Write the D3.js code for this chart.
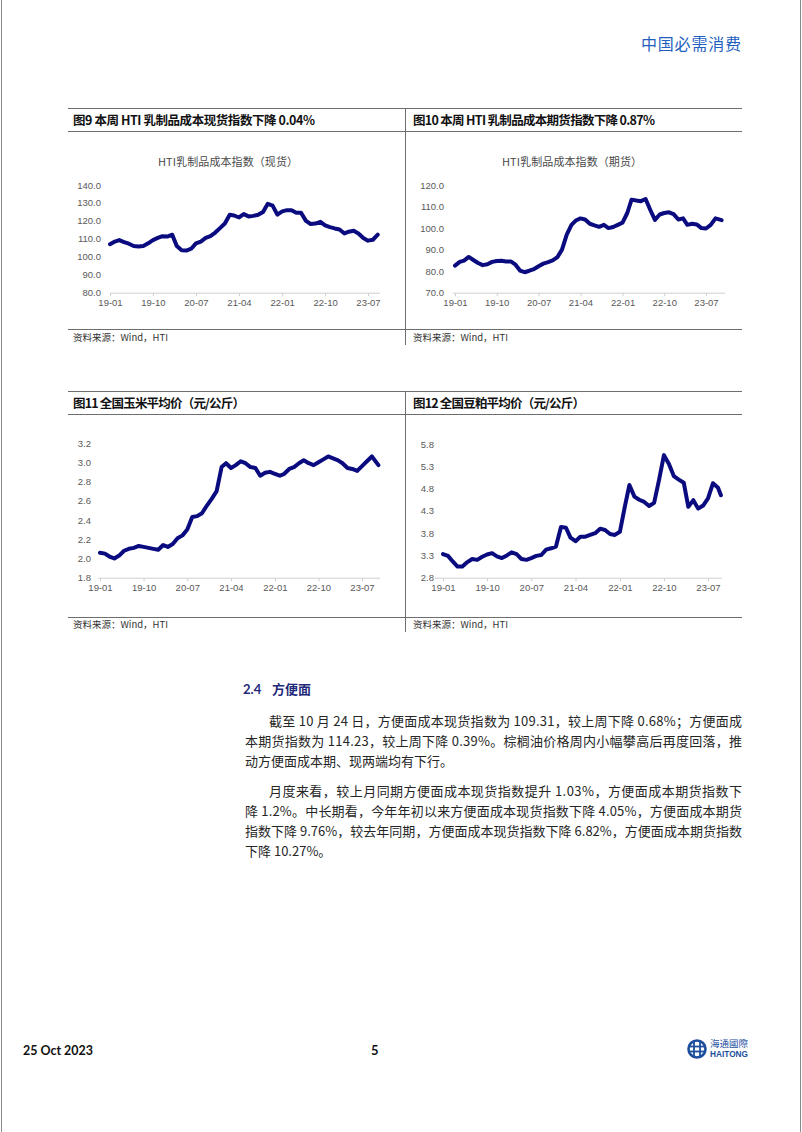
<!DOCTYPE html>
<html><head><meta charset="utf-8">
<script src="https://cdn.jsdelivr.net/npm/d3@7"></script>
<style>html,body{margin:0;padding:0;background:#fff;} svg{display:block;}</style>
</head><body>
<svg id="page" width="802" height="1132"></svg>
<script>
// ---------------- DATA ----------------
const monthStart = "2019-01", monthEnd = "2023-10"; // monthly observations Jan-2019 .. Sep-2023
const xTickLabels = ["19-01","19-10","20-07","21-04","22-01","22-10","23-07"];

// Fig 9: HTI dairy cost index (spot)
const spotValues = [107,108.5,109.3,108.2,107.3,106,105.7,106,107.5,109.3,110.5,111.5,
  111.3,112.3,106,103.6,103.5,104.5,107.5,108.5,110.5,111.5,113.5,116,
  118.5,123.4,123,121.9,123.8,122.5,122.8,123.4,125,129.5,128.5,123.5,
  125.3,126,126,124.5,124.5,120,118.3,118.5,119.5,117.5,116.5,115.8,
  115.2,113,114,114.5,113,110.5,109,109.5,112.3];
const spotEnd = null;
const spotTicks = [80,90,100,110,120,130,140];

// Fig 10: HTI dairy cost index (futures)
const futValues = [82.6,84.3,84.9,86.6,85.2,83.8,82.8,83.2,84.3,84.7,84.8,84.5,
  84.5,83,80.3,79.5,80.2,81,82.3,83.5,84.2,85,86.5,90,
  97,101.5,103.5,104.5,104,102,101.3,100.6,101.5,100,100.5,101.5,
  102.5,107,113.2,112.8,112.5,113.5,108.5,103.8,106.3,107,107.3,106.5,
  104,104.5,101.5,102,101.7,100,99.8,101.5,104.5];
const futEnd = ["2023-10-11", 103.7];
const futTicks = [70,80,90,100,110,120];

// Fig 11: national average corn price (yuan/kg)
const cornValues = [2.06,2.05,2.02,2.00,2.03,2.08,2.10,2.11,2.13,2.12,2.11,2.10,
  2.09,2.14,2.12,2.15,2.21,2.24,2.30,2.43,2.44,2.47,2.55,2.62,
  2.70,2.95,2.99,2.94,2.97,3.01,2.99,2.95,2.94,2.86,2.89,2.90,
  2.88,2.86,2.88,2.93,2.95,2.99,3.02,2.99,2.97,3.00,3.03,3.06,
  3.04,3.02,2.99,2.94,2.93,2.91,2.96,3.01,3.06];
const cornEnd = ["2023-10-12", 2.97];
const cornTicks = [1.8,2.0,2.2,2.4,2.6,2.8,3.0,3.2];

// Fig 12: national average soybean meal price (yuan/kg)
const soyValues = [3.33,3.29,3.17,3.05,3.05,3.15,3.22,3.20,3.27,3.32,3.35,3.28,
  3.24,3.30,3.37,3.33,3.22,3.20,3.24,3.29,3.31,3.43,3.46,3.50,
  3.94,3.92,3.70,3.62,3.72,3.72,3.76,3.80,3.90,3.87,3.78,3.76,
  3.83,4.40,4.88,4.62,4.55,4.50,4.41,4.48,5.00,5.55,5.35,5.08,
  5.00,4.93,4.39,4.54,4.35,4.42,4.58,4.92,4.82];
const soyEnd = ["2023-09-19", 4.65];
const soyTicks = [2.8,3.3,3.8,4.3,4.8,5.3,5.8];

// ---------------- TEXT ----------------
const headerText = "中国必需消费";
const fig9Title = "图9  本周 HTI 乳制品成本现货指数下降 0.04%";
const fig10Title = "图10 本周 HTI 乳制品成本期货指数下降 0.87%";
const fig11Title = "图11 全国玉米平均价（元/公斤）";
const fig12Title = "图12 全国豆粕平均价（元/公斤）";
const fig9Inner = "HTI乳制品成本指数（现货）";
const fig10Inner = "HTI乳制品成本指数（期货）";
const sourceText = "资料来源：Wind，HTI";
const sectionNum = "2.4", sectionName = "方便面";
const para1 = ["截至 10 月 24 日，方便面成本现货指数为 109.31，较上周下降 0.68%；方便面成",
  "本期货指数为 114.23，较上周下降 0.39%。棕榈油价格周内小幅攀高后再度回落，推",
  "动方便面成本期、现两端均有下行。"];
const para2 = ["月度来看，较上月同期方便面成本现货指数提升 1.03%，方便面成本期货指数下",
  "降 1.2%。中长期看，今年年初以来方便面成本现货指数下降 4.05%，方便面成本期货",
  "指数下降 9.76%，较去年同期，方便面成本现货指数下降 6.82%，方便面成本期货指数",
  "下降 10.27%。"];
const footDate = "25 Oct 2023", footPage = "5";

// ---------------- DRAW ----------------
const svg = d3.select("#page");
const CJK = "'Noto Sans CJK SC','Noto Sans',sans-serif";
const SANS = "'Liberation Sans',Arial,sans-serif";
const parseM = d3.timeParse("%Y-%m");
const parseD = d3.timeParse("%Y-%m-%d");
const parseTick = d3.timeParse("%y-%m");
const months = d3.timeMonth.range(parseM(monthStart), parseM(monthEnd));
const tickDates = xTickLabels.map(parseTick);

// page borders
[1.5, 800.5].forEach(xp => svg.append("line").attr("x1", xp).attr("x2", xp).attr("y1", 0).attr("y2", 1132)
  .attr("stroke", "#8a8a8a").attr("stroke-width", 1));

// header
svg.append("text").attr("x", 641).attr("y", 50).text(headerText)
  .attr("font-family", CJK).attr("font-size", 16).attr("fill", "#1f5fc0")
  .attr("textLength", 100).attr("lengthAdjust", "spacing");

function hline(x1, x2, yy, col) {
  svg.append("line").attr("x1", x1).attr("x2", x2).attr("y1", yy).attr("y2", yy)
    .attr("stroke", col || "#6e6e6e").attr("stroke-width", 1);
}
function vline(xx, y1, y2) {
  svg.append("line").attr("x1", xx).attr("x2", xx).attr("y1", y1).attr("y2", y2)
    .attr("stroke", "#6e6e6e").attr("stroke-width", 1);
}
function frame(top, tl, sl, bottom) {
  hline(68, 742, top + 0.5);
  hline(68, 742, tl + 0.5);
  hline(68, 742, sl + 0.5);
  vline(405.5, top, bottom);
}
frame(108, 131, 329, 345);
frame(391, 414, 617, 632);

function title(txt, xx, yy, w) {
  svg.append("text").attr("x", xx).attr("y", yy).text(txt)
    .attr("font-family", CJK).attr("font-weight", "bold").attr("font-size", 12.5).attr("fill", "#111")
    .attr("textLength", w).attr("lengthAdjust", "spacing");
}
title(fig9Title, 73, 124.5, 242);
title(fig10Title, 413, 124.5, 242);
title(fig11Title, 73, 408, 172);
title(fig12Title, 413, 408, 172);

function source(xx, yy) {
  svg.append("text").attr("x", xx).attr("y", yy).text(sourceText)
    .attr("font-family", CJK).attr("font-size", 9.5).attr("fill", "#333")
    .attr("textLength", 95).attr("lengthAdjust", "spacing");
}
source(73, 341); source(413, 341);
source(73, 628); source(413, 628);

function innerTitle(txt, cx, yy) {
  svg.append("text").attr("x", cx).attr("y", yy).attr("text-anchor", "middle").text(txt)
    .attr("font-family", CJK).attr("font-size", 11).attr("fill", "#4a4a4a")
    .attr("textLength", 140).attr("lengthAdjust", "spacing");
}
innerTitle(fig9Inner, 228, 166);
innerTitle(fig10Inner, 572, 166);

function drawChart(cfg) {
  const x = d3.scaleTime().domain([tickDates[0], tickDates[tickDates.length - 1]]).range([cfg.x0, cfg.x1]);
  const y = d3.scaleLinear().domain([cfg.yTicks[0], cfg.yTicks[cfg.yTicks.length - 1]]).range([cfg.yb, cfg.yt]);
  const g = svg.append("g");
  g.append("line").attr("x1", cfg.axL).attr("x2", cfg.axR).attr("y1", cfg.yb + 0.5).attr("y2", cfg.yb + 0.5)
    .attr("stroke", "#d0d0d0").attr("stroke-width", 1);
  const xa = g.append("g").attr("transform", `translate(0,${cfg.yb + 0.5})`)
    .call(d3.axisBottom(x).tickValues(tickDates).tickFormat((d, i) => xTickLabels[i]).tickSize(3).tickPadding(3));
  xa.select(".domain").remove();
  xa.selectAll(".tick line").attr("stroke", "#d0d0d0");
  xa.selectAll("text").attr("font-family", SANS).attr("font-size", 9.5).attr("fill", "#595959");
  const ya = g.append("g").attr("transform", `translate(${cfg.lx},0)`)
    .call(d3.axisLeft(y).tickValues(cfg.yTicks).tickFormat(d3.format(cfg.fmt)).tickSize(0).tickPadding(0));
  ya.select(".domain").remove();
  ya.selectAll("text").attr("font-family", SANS).attr("font-size", 9.5).attr("fill", "#595959");
  const pts = cfg.values.map((v, i) => ({ d: months[i], v: v }));
  if (cfg.end) pts.push({ d: parseD(cfg.end[0]), v: cfg.end[1] });
  g.append("path").datum(pts)
    .attr("d", d3.line().x(p => x(p.d)).y(p => y(p.v)))
    .attr("fill", "none").attr("stroke", "#0b0b80").attr("stroke-width", 4)
    .attr("stroke-linejoin", "round").attr("stroke-linecap", "round");
}

drawChart({ values: spotValues, end: spotEnd, yTicks: spotTicks, fmt: ".1f",
  x0: 110, x1: 368, axL: 110, axR: 380, yb: 292.7, yt: 185, lx: 101 });
drawChart({ values: futValues, end: futEnd, yTicks: futTicks, fmt: ".1f",
  x0: 455, x1: 706, axL: 453, axR: 725, yb: 292.7, yt: 185, lx: 444 });
drawChart({ values: cornValues, end: cornEnd, yTicks: cornTicks, fmt: ".1f",
  x0: 100, x1: 362, axL: 98, axR: 380, yb: 577.7, yt: 443, lx: 91 });
drawChart({ values: soyValues, end: soyEnd, yTicks: soyTicks, fmt: ".1f",
  x0: 443, x1: 708, axL: 435, axR: 722, yb: 577.7, yt: 444, lx: 434 });

// section heading
svg.append("text").attr("x", 243).attr("y", 694).text(sectionNum)
  .attr("font-family", "Lato,'Open Sans',sans-serif").attr("font-weight", "bold").attr("font-size", 13).attr("fill", "#1f2a7a");
svg.append("text").attr("x", 272).attr("y", 694).text(sectionName)
  .attr("font-family", CJK).attr("font-weight", "bold").attr("font-size", 13).attr("fill", "#1f2a7a");

// paragraphs
function para(lines, y0) {
  lines.forEach((t, i) => {
    const xx = i === 0 ? 269 : 245;
    const tx = svg.append("text").attr("x", xx).attr("y", y0 + i * 20.2).text(t)
      .attr("font-family", CJK).attr("font-size", 13).attr("fill", "#262626");
    if (i < lines.length - 1) tx.attr("textLength", 742 - xx).attr("lengthAdjust", "spacing");
  });
}
para(para1, 725.5);
para(para2, 795.5);

// footer
svg.append("text").attr("x", 23).attr("y", 1055).text(footDate)
  .attr("font-family", "Lato,'Open Sans',sans-serif").attr("font-weight", "bold").attr("font-size", 13).attr("fill", "#111")
  .attr("textLength", 70).attr("lengthAdjust", "spacingAndGlyphs");
svg.append("text").attr("x", 371).attr("y", 1055).text(footPage)
  .attr("font-family", "Lato,'Open Sans',sans-serif").attr("font-weight", "bold").attr("font-size", 13).attr("fill", "#111");

// logo
const lg = svg.append("g").attr("transform", "translate(697,1049)");
lg.append("circle").attr("r", 8.5).attr("fill", "none").attr("stroke", "#1d4f9e").attr("stroke-width", 2.6);
lg.append("line").attr("x1", -7).attr("x2", 7).attr("y1", -2.5).attr("y2", -2.5).attr("stroke", "#1d4f9e").attr("stroke-width", 1.8);
lg.append("line").attr("x1", -7).attr("x2", 7).attr("y1", 2.5).attr("y2", 2.5).attr("stroke", "#1d4f9e").attr("stroke-width", 1.8);
lg.append("line").attr("x1", -3).attr("x2", -3).attr("y1", -7).attr("y2", 7).attr("stroke", "#1d4f9e").attr("stroke-width", 1.8);
lg.append("line").attr("x1", 3).attr("x2", 3).attr("y1", -7).attr("y2", 7).attr("stroke", "#1d4f9e").attr("stroke-width", 1.8);
svg.append("text").attr("x", 710).attr("y", 1047).text("海通國際")
  .attr("font-family", CJK).attr("font-size", 9).attr("fill", "#1d4f9e")
  .attr("textLength", 38).attr("lengthAdjust", "spacingAndGlyphs");
svg.append("text").attr("x", 710).attr("y", 1057).text("HAITONG")
  .attr("font-family", SANS).attr("font-weight", "bold").attr("font-size", 8.5).attr("fill", "#1d4f9e")
  .attr("textLength", 38).attr("lengthAdjust", "spacingAndGlyphs");
</script>
</body></html>
